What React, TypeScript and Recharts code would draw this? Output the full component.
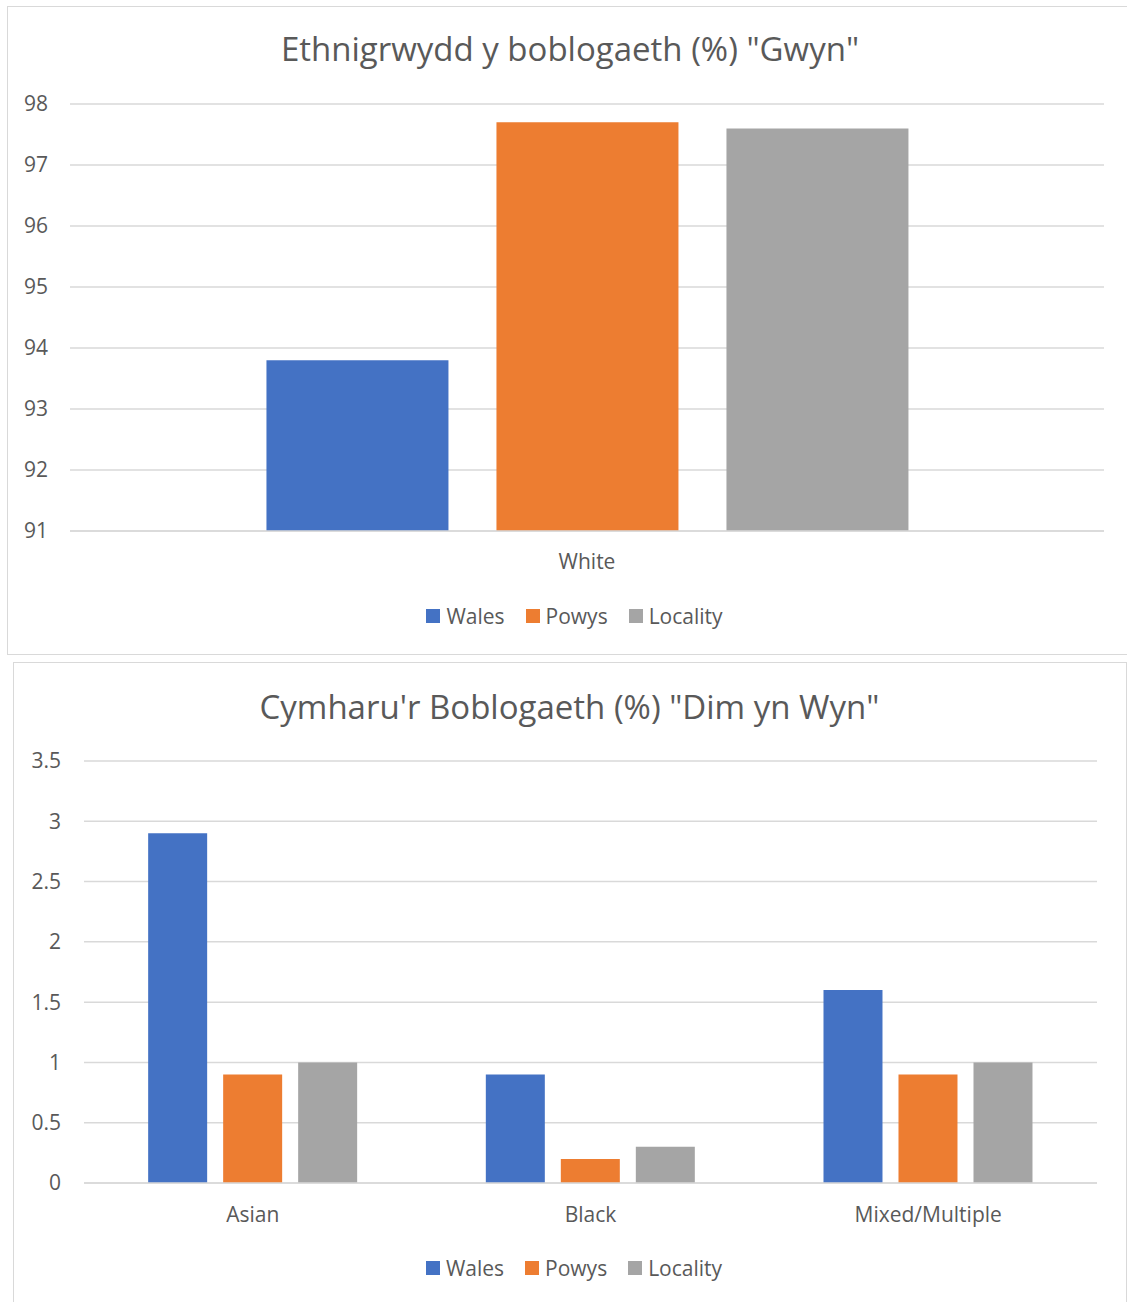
import React from "react";
import { BarChart, Bar, XAxis, YAxis, CartesianGrid, Legend } from "recharts";

const whiteCategories = ["White"];
const whiteWales = [93.8];
const whitePowys = [97.7];
const whiteLocality = [97.6];
const whiteTicks = [91, 92, 93, 94, 95, 96, 97, 98];

const otherCategories = ["Asian", "Black", "Mixed/Multiple"];
const otherWales = [2.9, 0.9, 1.6];
const otherPowys = [0.9, 0.2, 0.9];
const otherLocality = [1.0, 0.3, 1.0];
const otherTicks = [0, 0.5, 1, 1.5, 2, 2.5, 3, 3.5];

const seriesNames = ["Wales", "Powys", "Locality"];
const seriesColors = ["#4472C4", "#ED7D31", "#A5A5A5"];

const FONT = "'Open Sans', sans-serif";
const TEXT = "#595959";
const GRID = "#d9d9d9";

function buildRows(cats: string[], a: number[], b: number[], c: number[]) {
  return cats.map((cat, i) => ({
    category: cat,
    [seriesNames[0]]: a[i],
    [seriesNames[1]]: b[i],
    [seriesNames[2]]: c[i],
  }));
}

const whiteData = buildRows(whiteCategories, whiteWales, whitePowys, whiteLocality);
const otherData = buildRows(otherCategories, otherWales, otherPowys, otherLocality);

// keep legend in series order (recharts sorts by name otherwise)
function LegendRow(props: any) {
  const items = [...(props.payload || [])].sort(
    (a: any, b: any) => seriesNames.indexOf(a.value) - seriesNames.indexOf(b.value)
  );
  return (
    <div
      style={{
        height: 30,
        display: "flex",
        justifyContent: "center",
        alignItems: "center",
        fontFamily: FONT,
        fontSize: 21,
        color: TEXT,
      }}
    >
      {items.map((it: any, i: number) => (
        <span
          key={it.value}
          style={{ display: "flex", alignItems: "center", marginLeft: i === 0 ? 0 : 21 }}
        >
          <span style={{ width: 14, height: 14, background: it.color, marginRight: 6 }} />
          {it.value}
        </span>
      ))}
    </div>
  );
}

const tickStyle = { fill: TEXT, fontSize: 21, fontFamily: FONT };

export default function App() {
  return (
    <div style={{ position: "relative", width: 1127, height: 1302, overflow: "hidden", background: "#fff" }}>
      <style>{"html,body{margin:0;overflow:hidden;background:#fff}"}</style>

      {/* top chart frame (right edge runs off the page) */}
      <div
        style={{
          position: "absolute",
          left: 7,
          top: 6,
          width: 1130,
          height: 647,
          border: `1.5px solid ${GRID}`,
          borderRight: "none",
        }}
      />
      <div
        style={{
          position: "absolute",
          left: 7,
          top: 29,
          width: 1126,
          lineHeight: "40px",
          textAlign: "center",
          fontFamily: FONT,
          fontSize: 33,
          color: TEXT,
        }}
      >
        Ethnigrwydd y boblogaeth (%) "Gwyn"
      </div>
      <div style={{ position: "absolute", left: 0, top: 0 }}>
        <BarChart
          width={1127}
          height={655}
          data={whiteData}
          margin={{ top: 104, right: 23, left: 0, bottom: 54 }}
          barCategoryGap="19%"
          barGap={48}
        >
          <CartesianGrid vertical={false} stroke={GRID} strokeWidth={1.5} />
          <XAxis
            dataKey="category"
            height={40}
            tickLine={false}
            axisLine={{ stroke: GRID, strokeWidth: 1.5 }}
            tick={tickStyle}
            tickMargin={17}
          />
          <YAxis
            width={70}
            domain={[91, 98]}
            ticks={whiteTicks}
            interval={0}
            tickLine={false}
            axisLine={false}
            tick={tickStyle}
            tickMargin={16}
          />
          <Legend content={<LegendRow />} wrapperStyle={{ bottom: 24, left: 22, width: 1105 }} />
          {seriesNames.map((name, i) => (
            <Bar key={name} dataKey={name} fill={seriesColors[i]} isAnimationActive={false} />
          ))}
        </BarChart>
      </div>

      {/* bottom chart frame */}
      <div
        style={{
          position: "absolute",
          left: 13,
          top: 662,
          width: 1112,
          height: 660,
          border: `1.5px solid ${GRID}`,
        }}
      />
      <div
        style={{
          position: "absolute",
          left: 13,
          top: 687,
          width: 1113,
          lineHeight: "40px",
          textAlign: "center",
          fontFamily: FONT,
          fontSize: 33,
          color: TEXT,
        }}
      >
        Cymharu'r Boblogaeth (%) "Dim yn Wyn"
      </div>
      <div style={{ position: "absolute", left: 0, top: 662 }}>
        <BarChart
          width={1127}
          height={640}
          data={otherData}
          margin={{ top: 99, right: 30, left: 0, bottom: 49 }}
          barCategoryGap="19%"
          barGap={16}
        >
          <CartesianGrid vertical={false} stroke={GRID} strokeWidth={1.5} />
          <XAxis
            dataKey="category"
            height={40}
            tickLine={false}
            axisLine={{ stroke: GRID, strokeWidth: 1.5 }}
            tick={tickStyle}
            tickMargin={18}
          />
          <YAxis
            width={84}
            domain={[0, 3.5]}
            ticks={otherTicks}
            interval={0}
            tickLine={false}
            axisLine={false}
            tick={tickStyle}
            tickMargin={17}
          />
          <Legend content={<LegendRow />} wrapperStyle={{ bottom: 19, left: 22, width: 1104 }} />
          {seriesNames.map((name, i) => (
            <Bar key={name} dataKey={name} fill={seriesColors[i]} isAnimationActive={false} />
          ))}
        </BarChart>
      </div>
    </div>
  );
}
